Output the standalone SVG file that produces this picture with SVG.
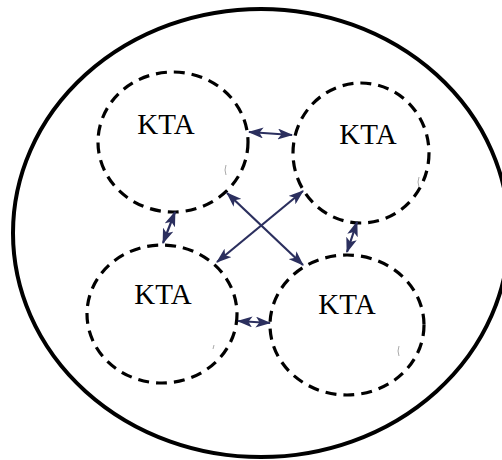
<svg xmlns="http://www.w3.org/2000/svg" width="502" height="460" viewBox="0 0 502 460">
<style>
.kta{fill:none;stroke:#000;stroke-width:3.2;stroke-dasharray:11 7}
.lbl{font-family:"Liberation Serif","Times New Roman",serif;font-size:29px;fill:#000;text-anchor:middle;dominant-baseline:central}
.con{stroke:#2b2f5e;stroke-width:2.2;fill:none;marker-start:url(#ah);marker-end:url(#ah)}
.mk{fill:none;stroke:#aaa;stroke-width:1}
</style>
<defs>
<marker id="ah" viewBox="0 0 14 10" refX="13" refY="5" markerWidth="7" markerHeight="5" orient="auto-start-reverse">
<path d="M0,0 L14,5 L0,10 L3.5,5 Z" fill="#2b2f5e"/>
</marker>
</defs>
<ellipse id="boundary" cx="261" cy="233" rx="248" ry="224" fill="none" stroke="#000" stroke-width="4"/>
<g id="kta1"><ellipse class="kta" cx="173" cy="142" rx="75" ry="70"/><text class="lbl" x="166" y="124">KTA</text><path class="mk" d="M226,165 q-2,5 0,10"/></g>
<g id="kta2"><ellipse class="kta" cx="361" cy="153" rx="68" ry="70"/><text class="lbl" x="368" y="134">KTA</text><path class="mk" d="M419,177 q-2,5 0,10"/></g>
<g id="kta3"><ellipse class="kta" cx="162" cy="314" rx="75" ry="69"/><text class="lbl" x="163" y="294">KTA</text><path class="mk" d="M214,345 l-1,4"/></g>
<g id="kta4"><ellipse class="kta" cx="347" cy="325" rx="77" ry="70"/><text class="lbl" x="347" y="304">KTA</text><path class="mk" d="M399,346 q-2,5 0,10"/></g>
<g id="connectors">
<line class="con" x1="249" y1="132" x2="292" y2="135"/>
<line class="con" x1="175" y1="212" x2="163" y2="243"/>
<line class="con" x1="357" y1="222" x2="347" y2="252"/>
<line class="con" x1="238" y1="321" x2="270" y2="323"/>
<line class="con" x1="227" y1="193" x2="303" y2="265"/>
<line class="con" x1="303" y1="191" x2="217" y2="262"/>
</g>
</svg>
